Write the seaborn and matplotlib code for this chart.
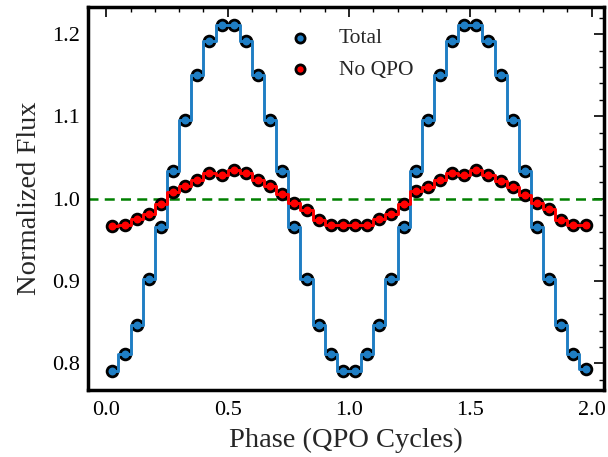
import numpy as np
import pandas as pd
import matplotlib
matplotlib.use("Agg")
import matplotlib.pyplot as plt
import seaborn as sns
from matplotlib.ticker import MultipleLocator

phase = [0.025, 0.075, 0.125, 0.175, 0.225, 0.275, 0.325, 0.375, 0.425, 0.475,
         0.525, 0.575, 0.625, 0.675, 0.725, 0.775, 0.825, 0.875, 0.925, 0.975,
         1.025, 1.075, 1.125, 1.175, 1.225, 1.275, 1.325, 1.375, 1.425, 1.475,
         1.525, 1.575, 1.625, 1.675, 1.725, 1.775, 1.825, 1.875, 1.925, 1.975]

total = [0.791, 0.812, 0.847, 0.903, 0.966, 1.034, 1.096, 1.150, 1.191, 1.211,
         1.211, 1.191, 1.150, 1.096, 1.034, 0.966, 0.903, 0.847, 0.812, 0.791,
         0.791, 0.812, 0.847, 0.903, 0.966, 1.034, 1.096, 1.150, 1.191, 1.211,
         1.211, 1.191, 1.150, 1.096, 1.034, 0.966, 0.903, 0.847, 0.812, 0.793]

no_qpo = [0.967, 0.968, 0.975, 0.982, 0.994, 1.008, 1.015, 1.023, 1.031, 1.029,
          1.035, 1.031, 1.023, 1.015, 1.006, 0.995, 0.986, 0.974, 0.968, 0.968,
          0.968, 0.968, 0.975, 0.981, 0.994, 1.009, 1.014, 1.023, 1.031, 1.029,
          1.035, 1.029, 1.022, 1.014, 1.004, 0.995, 0.987, 0.974, 0.968, 0.968]

df = pd.DataFrame({"phase": phase, "total": total, "no_qpo": no_qpo})

sns.set_style("white")
plt.rcParams["font.family"] = ["Liberation Serif", "DejaVu Serif"]
plt.rcParams["mathtext.fontset"] = "stix"

fig, ax = plt.subplots(figsize=(6.08, 4.57), dpi=100)
fig.subplots_adjust(left=0.145, right=0.993, top=0.985, bottom=0.147)

blue = "#1f7ec4"
sns.scatterplot(data=df, x="phase", y="total", ax=ax, color=blue, s=60,
                edgecolor="black", linewidth=2.0, label="Total", zorder=2)
sns.scatterplot(data=df, x="phase", y="no_qpo", ax=ax, color="red", s=60,
                edgecolor="black", linewidth=2.0, label="No QPO", zorder=2)
sns.lineplot(data=df, x="phase", y="total", ax=ax, color=blue, lw=2.1,
             drawstyle="steps-mid", zorder=3)
sns.lineplot(data=df, x="phase", y="no_qpo", ax=ax, color="red", lw=2.1,
             drawstyle="steps-mid", zorder=3)
ax.axhline(1.0, color="green", ls="--", lw=1.8, dashes=(4, 2.5), zorder=1)

ax.set_xlim(-0.075, 2.05)
ax.set_ylim(0.768, 1.233)
ax.xaxis.set_major_locator(MultipleLocator(0.5))
ax.xaxis.set_minor_locator(MultipleLocator(0.1))
ax.yaxis.set_major_locator(MultipleLocator(0.1))
ax.yaxis.set_minor_locator(MultipleLocator(0.02))
ax.tick_params(which="both", direction="in", top=True, right=True,
               labelsize=16, colors="black")
ax.tick_params(which="major", length=7, width=1.2, pad=6)
ax.tick_params(axis="x", which="major", pad=8)
ax.tick_params(which="minor", length=3.5, width=1.0)
for s in ax.spines.values():
    s.set_linewidth(2.5)
    s.set_color("black")

ax.set_xlabel("Phase (QPO Cycles)", fontsize=20.5, labelpad=6)
ax.set_ylabel("Normalized Flux", fontsize=20.5, labelpad=7)

leg = ax.legend(loc="upper center", frameon=False, fontsize=15.5,
                handletextpad=0.8, labelspacing=0.55, markerscale=0.85,
                bbox_to_anchor=(0.5, 0.995))

fig.savefig("out.png", dpi=100)
